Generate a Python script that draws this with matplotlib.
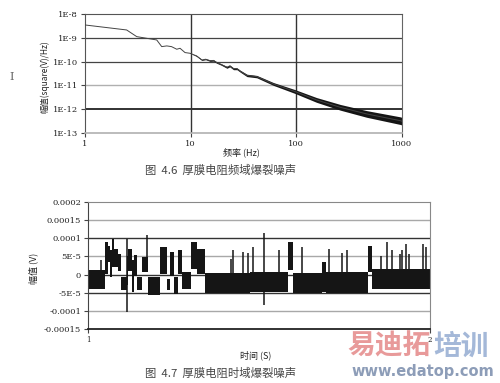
import numpy as np
import matplotlib
matplotlib.use("Agg")
import matplotlib.pyplot as plt

CJK = ["Noto Sans CJK SC", "DejaVu Sans"]
TICK_FONT = "DejaVu Serif"

# --- spectrum (top chart): frequency in Hz, log10 of amplitude ---
spec_freq = [1, 2.48, 3.09, 3.84, 4.78, 5.33, 5.95, 6.6, 7.4, 7.95, 8.86, 9.9,
             11.4, 12.8, 13.9, 15.3, 16.5, 17.7, 19.5, 22.1, 23.5, 25.5, 27.5,
             29.5, 34.2, 42.4, 61, 98, 156, 262, 467, 967, 1000]
spec_log = [-8.46, -8.67, -8.95, -9.02, -9.09, -9.37, -9.34, -9.37, -9.48, -9.44,
            -9.62, -9.65, -9.76, -9.93, -9.90, -9.96, -9.95, -10.04, -10.12,
            -10.24, -10.18, -10.30, -10.30, -10.40, -10.58, -10.63, -10.94,
            -11.26, -11.61, -11.92, -12.2, -12.48, -12.5]
# half thickness of the noisy band, decades
spec_spread = [0, 0, 0, 0, 0, 0, 0, 0, 0, 0, 0, 0, 0.02, 0.02, 0.02, 0.03, 0.03,
               0.03, 0.03, 0.04, 0.04, 0.04, 0.04, 0.04, 0.05, 0.05, 0.06, 0.08,
               0.10, 0.12, 0.14, 0.16, 0.16]
spec_yticks = [1e-13, 1e-12, 1e-11, 1e-10, 1e-9, 1e-8]
spec_ylabels = ["1E-13", "1E-12", "1E-11", "1E-10", "1E-9", "1E-8"]
spec_xticks = [1, 10, 100, 1000]
spec_xlabels = ["1", "10", "100", "1000"]

# --- time trace (bottom chart): seconds, amplitude in 1e-5 V ---
seg_start = [1.000, 1.050, 1.058, 1.064, 1.069, 1.075, 1.089, 1.096, 1.113, 1.118,
             1.128, 1.135, 1.142, 1.157, 1.176, 1.211, 1.230, 1.240, 1.252, 1.262,
             1.276, 1.301, 1.318, 1.342, 1.474, 1.585, 1.599, 1.684, 1.696, 1.819,
             1.830]
seg_end = [1.050, 1.058, 1.064, 1.069, 1.075, 1.089, 1.096, 1.113, 1.118, 1.128,
           1.135, 1.142, 1.157, 1.176, 1.211, 1.230, 1.240, 1.252, 1.262, 1.276,
           1.301, 1.318, 1.342, 1.474, 1.585, 1.599, 1.684, 1.696, 1.819, 1.830,
           2.000]
seg_low = [-4.0, 0.2, 3.4, -0.7, 2.0, 2.0, 1.1, -4.4, -3.0, 1.1, -4.9, -0.3, -4.4,
           0.6, -5.6, 0.2, -4.4, -0.3, -5.5, 0.2, -4.0, 1.6, 0.2, -5.0, -4.8, 1.2,
           -5.0, -4.9, -5.0, 0.6, -4.0]
seg_high = [1.2, 9.0, 8.0, 6.7, 9.9, 7.1, 5.7, -0.7, 5.0, 7.1, 3.9, 5.3, -0.7,
            4.8, -0.7, 7.6, -1.2, 6.2, -0.7, 6.7, 0.6, 9.0, 7.1, 0.3, 0.6, 9.0,
            0.5, 3.4, 0.6, 8.0, 1.5]

spike_t = [1.038, 1.113, 1.172, 1.417, 1.425, 1.453, 1.468, 1.482, 1.515, 1.559,
           1.625, 1.705, 1.742, 1.756, 1.857, 1.873, 1.888, 1.912, 1.918, 1.930,
           1.939, 1.980, 1.987]
spike_low = [-1, -10.4, 2, -2, -2, -2, -2, -2, -8.5, -2, -2, -4, -2, -2, -2, -2,
             -2, -2, -2, -2, -2, -2, -2]
spike_high = [3.9, 9.7, 11, 4.4, 6.7, 6.3, 6.0, 7.6, 11.5, 6.7, 7.6, 7.1, 6.0,
              6.7, 5.1, 9.0, 6.7, 5.7, 6.7, 8.5, 5.7, 8.5, 7.6]

time_yticks = [-0.00015, -0.0001, -5e-5, 0, 5e-5, 0.0001, 0.00015, 0.0002]
time_ylabels = ["-0.00015", "-0.0001", "-5E-5", "0", "5E-5", "0.0001", "0.00015", "0.0002"]
time_grid_colors = ["#222222", "#a8a8a8", "#333333", "#333333", "#a8a8a8",
                    "#333333", "#a8a8a8", "#888888"]

fig = plt.figure(figsize=(5.0, 3.83), dpi=100)

# ---------------- top: frequency domain ----------------
ax1 = fig.add_axes([0.170, 0.6527, 0.6334, 0.3107])
ax1.set_xscale("log")
ax1.set_yscale("log")
ax1.set_xlim(1, 1000)
ax1.set_ylim(1e-13, 1e-8)

grid_top = {1e-12: ("#222222", 1.3), 1e-11: ("#b0b0b0", 1.0),
            1e-10: ("#444444", 0.9), 1e-9: ("#444444", 0.9)}
for yv, (c, w) in grid_top.items():
    ax1.axhline(yv, color=c, lw=w, zorder=1)
for xv in [10, 100]:
    ax1.axvline(xv, color="#333333", lw=1.0, zorder=1)

f = np.array(spec_freq)
lg = np.array(spec_log)
sp = np.array(spec_spread)
ax1.fill_between(f, 10 ** (lg - sp), 10 ** (lg + sp), color="#151515", lw=0, zorder=2)
ax1.plot(f, 10 ** lg, color="#444444", lw=0.7, zorder=3)

ax1.set_xticks(spec_xticks)
ax1.set_xticklabels(spec_xlabels)
ax1.set_yticks(spec_yticks)
ax1.set_yticklabels(spec_ylabels)
ax1.minorticks_off()
ax1.tick_params(axis="both", labelsize=6, length=3, width=0.8, color="#444444",
                pad=2, labelcolor="#222222")
for lab in ax1.get_xticklabels() + ax1.get_yticklabels():
    lab.set_family(TICK_FONT)
ax1.spines["top"].set_color("#555555")
ax1.spines["left"].set_color("#555555")
ax1.spines["right"].set_color("#666666")
ax1.spines["bottom"].set_color("#b0b0b0")
ax1.spines["bottom"].set_linewidth(1.2)

fig.text(0.482, 0.603, "频率 (Hz)", family=CJK, fontsize=6.5, ha="center",
         va="center", color="#222222")
fig.text(0.09, 0.80, "幅值(square(V)/Hz)", family=CJK, fontsize=6, rotation=90,
         ha="center", va="center", color="#222222")
fig.text(0.441, 0.556, "图  4.6  厚膜电阻频域爆裂噪声", family=CJK, fontsize=8.2,
         ha="center", va="center", color="#444444")
fig.text(0.024, 0.80, "I", family="DejaVu Serif", fontsize=8, ha="center",
         va="center", color="#666666")

# ---------------- bottom: time domain ----------------
ax2 = fig.add_axes([0.176, 0.1418, 0.684, 0.33])
ax2.set_xlim(1, 2)
ax2.set_ylim(-0.00015, 0.0002)
for yv, c in zip(time_yticks[1:-1], time_grid_colors[1:-1]):
    ax2.axhline(yv, color=c, lw=1.0, zorder=1)

starts = np.array(seg_start)
ends = np.array(seg_end)
lows = np.array(seg_low) * 1e-5
highs = np.array(seg_high) * 1e-5
ax2.bar(starts, highs - lows, width=ends - starts, bottom=lows, align="edge",
        color="#151515", lw=0, zorder=2)
ax2.vlines(spike_t, np.array(spike_low) * 1e-5, np.array(spike_high) * 1e-5,
           color="#151515", lw=1.1, zorder=3)

ax2.set_yticks(time_yticks)
ax2.set_yticklabels(time_ylabels)
ax2.set_xticks([1, 2])
ax2.set_xticklabels(["1", "2"])
ax2.tick_params(axis="both", labelsize=6, length=3, width=0.8, color="#444444",
                pad=2, labelcolor="#222222")
ax2.tick_params(axis="x", labelsize=5)
for lab in ax2.get_xticklabels() + ax2.get_yticklabels():
    lab.set_family(TICK_FONT)
ax2.spines["top"].set_color("#888888")
ax2.spines["right"].set_color("#888888")
ax2.spines["left"].set_color("#444444")
ax2.spines["bottom"].set_color("#222222")
ax2.spines["bottom"].set_linewidth(1.3)

fig.text(0.512, 0.073, "时间 (S)", family=CJK, fontsize=6.5, ha="center",
         va="center", color="#222222")
fig.text(0.066, 0.30, "幅值 (V)", family=CJK, fontsize=6.5, rotation=90,
         ha="center", va="center", color="#222222")
fig.text(0.442, 0.026, "图  4.7  厚膜电阻时域爆裂噪声", family=CJK, fontsize=8.2,
         ha="center", va="center", color="#444444")

# watermark
fig.text(0.694, 0.096, "易迪拓", family=CJK, fontsize=20, fontweight="bold",
         ha="left", va="center", color="#e89a9a")
fig.text(0.866, 0.096, "培训", family=CJK, fontsize=20, fontweight="bold",
         ha="left", va="center", color="#a4b8d8")
fig.text(0.845, 0.029, "www.edatop.com", family="DejaVu Sans", fontsize=10.5,
         fontweight="bold", ha="center", va="center", color="#8d9db8")

fig.savefig("out.png", dpi=100)
